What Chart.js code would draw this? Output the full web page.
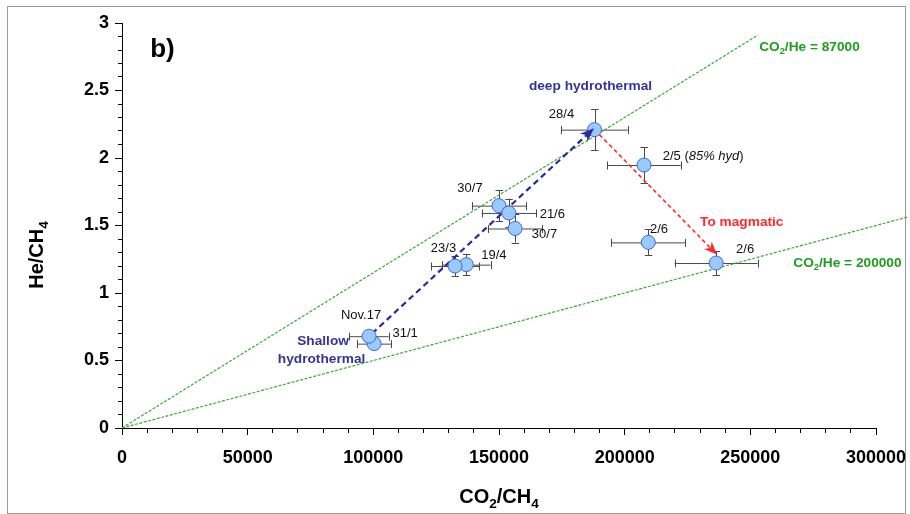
<!DOCTYPE html>
<html><head><meta charset="utf-8">
<script src="https://cdn.jsdelivr.net/npm/chart.js@4"></script>
<style>html,body{margin:0;padding:0;background:#fff;}canvas{display:block;}</style>
</head><body>
<canvas id="c" width="910" height="514"></canvas>
<script>
// ---- data ----
const sampleLabels = ['31/1', 'Nov.17', '19/4', '23/3', '30/7', '21/6', '30/7', '28/4', '2/5', '2/6', '2/6'];
const co2ch4       = [100300, 98300, 137000, 132500, 150000, 153900, 156400, 188000, 207700, 209400, 236400];
const hech4        = [0.625, 0.68, 1.21, 1.20, 1.647, 1.593, 1.478, 2.21, 1.948, 1.375, 1.222];
const co2ch4Err    = [6800, 7800, 9700, 9600, 10800, 10800, 10800, 13300, 14600, 14700, 16500];
const hech4Err     = [0.03, 0.03, 0.08, 0.074, 0.113, 0.106, 0.104, 0.152, 0.131, 0.096, 0.089];

const ratioLine87000  = [{x: 0, y: 0}, {x: 253000, y: 2.91}];
const ratioLine200000 = [{x: 0, y: 0}, {x: 313000, y: 1.565}];
const shallowToDeep   = [{x: 99500, y: 0.70}, {x: 187800, y: 2.22}];
const deepToMagmatic  = [{x: 188000, y: 2.21}, {x: 236700, y: 1.285}];

const xTickMajor = 50000, xTickStep = 10000, xMax = 300000;
const yTickMajor = 0.5, yTickStep = 0.1, yMax = 3;

// ---- label placement (pixel offsets from points) ----
const labelOffsets = [[31, -11], [-8, -21.6], [27.5, -10], [-11.5, -18.4], [-29, -18.7], [43.5, 0], [29.4, 4.6], [-33, -16], [18.7, -10, 'left'], [10.7, -14.4], [29, -15]];

const FONT = '"Liberation Sans", Arial, sans-serif';
function setFont(ctx, size, weight, style) { ctx.font = (style || 'normal') + ' ' + (weight || 'normal') + ' ' + size + 'px ' + FONT; }
function drawRich(ctx, parts, x, y, o) {
  const size = o.size, weight = o.weight || 'normal', subSize = size * 0.68;
  const widths = parts.map(p => { setFont(ctx, p.sub ? subSize : size, weight, p.italic ? 'italic' : 'normal'); return ctx.measureText(p.t).width; });
  const total = widths.reduce((a, b) => a + b, 0);
  let sx = o.align === 'center' ? x - total / 2 : (o.align === 'right' ? x - total : x);
  const base = y + size * 0.36;
  ctx.save();
  ctx.fillStyle = o.color || '#000'; ctx.textAlign = 'left'; ctx.textBaseline = 'alphabetic';
  parts.forEach((p, i) => {
    setFont(ctx, p.sub ? subSize : size, weight, p.italic ? 'italic' : 'normal');
    ctx.fillText(p.t, sx, p.sub ? base + size * 0.22 : base);
    sx += widths[i];
  });
  ctx.restore();
}
function arrowHead(ctx, from, to, len, half, color) {
  const a = Math.atan2(to.y - from.y, to.x - from.x);
  ctx.save(); ctx.translate(to.x, to.y); ctx.rotate(a);
  ctx.beginPath(); ctx.moveTo(0, 0); ctx.lineTo(-len, -half); ctx.lineTo(-len * 0.7, 0); ctx.lineTo(-len, half); ctx.closePath();
  ctx.fillStyle = color; ctx.fill(); ctx.restore();
}

const notes = [
  {parts: [{t: 'b)'}], x: 16100, y: 2.82, size: 26, weight: 'bold', color: '#000', align: 'center'},
  {parts: [{t: 'deep hydrothermal'}], x: 186400, y: 2.54, size: 13.7, weight: 'bold', color: '#33339a', align: 'center'},
  {parts: [{t: 'Shallow'}], x: 80000, y: 0.649, size: 13.7, weight: 'bold', color: '#33339a', align: 'center'},
  {parts: [{t: 'hydrothermal'}], x: 79400, y: 0.521, size: 13.7, weight: 'bold', color: '#33339a', align: 'center'},
  {parts: [{t: 'To magmatic'}], x: 230000, y: 1.53, size: 13.7, weight: 'bold', color: '#ff2a2a', align: 'left'},
  {parts: [{t: 'CO'}, {t: '2', sub: true}, {t: '/He = 87000'}], x: 253500, y: 2.827, size: 13.7, weight: 'bold', color: '#1e9e1e', align: 'left'},
  {parts: [{t: 'CO'}, {t: '2', sub: true}, {t: '/He = 200000'}], x: 267100, y: 1.227, size: 13.7, weight: 'bold', color: '#1e9e1e', align: 'left'}
];

const decor = {
  id: 'decor',
  beforeDraw(chart) {
    const ctx = chart.ctx;
    ctx.save(); ctx.fillStyle = '#fff'; ctx.fillRect(0, 0, chart.width, chart.height);
    ctx.strokeStyle = '#999'; ctx.lineWidth = 1; ctx.strokeRect(7.5, 6.5, 898, 507); ctx.restore();
  },
  beforeDatasetsDraw(chart) {
    const ctx = chart.ctx, xs = chart.scales.x, ys = chart.scales.y;
    ctx.save(); ctx.strokeStyle = '#4a4a4a'; ctx.lineWidth = 1;
    co2ch4.forEach((v, i) => {
      const px = xs.getPixelForValue(v), py = ys.getPixelForValue(hech4[i]);
      const x1 = xs.getPixelForValue(v - co2ch4Err[i]), x2 = xs.getPixelForValue(v + co2ch4Err[i]);
      const y1 = ys.getPixelForValue(hech4[i] + hech4Err[i]), y2 = ys.getPixelForValue(hech4[i] - hech4Err[i]);
      ctx.beginPath();
      ctx.moveTo(x1, py + 0.5); ctx.lineTo(x2, py + 0.5);
      ctx.moveTo(Math.round(x1) + 0.5, py - 3.5); ctx.lineTo(Math.round(x1) + 0.5, py + 4.5);
      ctx.moveTo(Math.round(x2) + 0.5, py - 3.5); ctx.lineTo(Math.round(x2) + 0.5, py + 4.5);
      ctx.moveTo(Math.round(px) + 0.5, y1); ctx.lineTo(Math.round(px) + 0.5, y2);
      ctx.moveTo(px - 3.5, Math.round(y1) + 0.5); ctx.lineTo(px + 4, Math.round(y1) + 0.5);
      ctx.moveTo(px - 3.5, Math.round(y2) + 0.5); ctx.lineTo(px + 4, Math.round(y2) + 0.5);
      ctx.stroke();
    });
    ctx.restore();
  },
  afterDraw(chart) {
    const ctx = chart.ctx, xs = chart.scales.x, ys = chart.scales.y;
    const b = chart.getDatasetMeta(1).data, r = chart.getDatasetMeta(2).data;
    arrowHead(ctx, b[0], b[1], 14, 5.5, '#2a2a9a');
    arrowHead(ctx, r[0], r[1], 13, 5.5, '#ff2a2a');
    const pts = chart.getDatasetMeta(0).data;
    sampleLabels.forEach((lab, i) => {
      const o = labelOffsets[i], p = pts[i];
      let parts = [{t: lab}];
      if (lab === '2/5') parts = [{t: '2/5 ('}, {t: '85% hyd', italic: true}, {t: ')'}];
      drawRich(ctx, parts, p.x + o[0], p.y + o[1], {size: 13, color: '#111', align: o[2] || 'center'});
    });
    notes.forEach(n => drawRich(ctx, n.parts, xs.getPixelForValue(n.x), ys.getPixelForValue(n.y), n));
    ctx.save(); ctx.translate(36, 255); ctx.rotate(-Math.PI / 2);
    drawRich(ctx, [{t: 'He/CH'}, {t: '4', sub: true}], 0, 0, {size: 20, weight: 'bold', align: 'center'});
    ctx.restore();
    drawRich(ctx, [{t: 'CO'}, {t: '2', sub: true}, {t: '/CH'}, {t: '4', sub: true}], 499, 496, {size: 20, weight: 'bold', align: 'center'});
  }
};

const tickFont = {family: FONT, size: 18, weight: 'bold'};
new Chart(document.getElementById('c'), {
  type: 'scatter',
  data: {
    datasets: [
      {data: co2ch4.map((v, i) => ({x: v, y: hech4[i]})), pointRadius: 7, pointHoverRadius: 7,
       pointBackgroundColor: '#99c9ff', pointBorderColor: '#3d6ad6', pointBorderWidth: 1},
      {data: shallowToDeep, showLine: true, pointRadius: 0, borderColor: '#2a2a9a', borderWidth: 2.2, borderDash: [6, 4]},
      {data: deepToMagmatic, showLine: true, pointRadius: 0, borderColor: '#ff2a2a', borderWidth: 1.6, borderDash: [4, 3]},
      {data: ratioLine87000, showLine: true, pointRadius: 0, borderColor: '#3aaa3a', borderWidth: 1.2, borderDash: [3, 1.5], clip: false},
      {data: ratioLine200000, showLine: true, pointRadius: 0, borderColor: '#3aaa3a', borderWidth: 1.2, borderDash: [3, 1.5], clip: false}
    ]
  },
  options: {
    responsive: false, animation: false, devicePixelRatio: 1, events: [],
    layout: {padding: {top: 23, right: 34, left: 0, bottom: 0}},
    plugins: {legend: {display: false}, tooltip: {enabled: false}},
    scales: {
      x: {
        type: 'linear', min: 0, max: xMax,
        afterFit(s) { s.height = 86; s.paddingLeft = 0; s.paddingRight = 0; },
        border: {display: true, color: '#000', width: 1},
        grid: {drawOnChartArea: false, drawTicks: true, tickLength: 7, tickColor: '#000',
               tickBorderDash: c => (c.tick && c.tick.value % xTickMajor !== 0) ? [4, 20] : [],
               tickBorderDashOffset: 0},
        ticks: {stepSize: xTickStep, autoSkip: false, maxRotation: 0, color: '#000', font: tickFont, padding: 12,
                callback: v => (v % xTickMajor === 0 ? String(v) : '')}
      },
      y: {
        type: 'linear', min: 0, max: yMax,
        afterFit(s) { s.width = 122; s.paddingTop = 0; s.paddingBottom = 0; },
        border: {display: true, color: '#000', width: 1},
        grid: {drawOnChartArea: false, drawTicks: true, tickLength: 7, tickColor: '#000',
               tickBorderDash: c => (c.tick && Math.abs(c.tick.value / yTickMajor - Math.round(c.tick.value / yTickMajor)) > 1e-6) ? [4, 20] : [],
               tickBorderDashOffset: c => (c.tick && Math.abs(c.tick.value / yTickMajor - Math.round(c.tick.value / yTickMajor)) > 1e-6) ? 21 : 0},
        ticks: {stepSize: yTickStep, autoSkip: false, color: '#000', font: tickFont, padding: 6,
                callback: v => (Math.abs(v / yTickMajor - Math.round(v / yTickMajor)) < 1e-6 ? String(Math.round(v * 10) / 10) : '')}
      }
    }
  },
  plugins: [decor]
});
</script>
</body></html>
